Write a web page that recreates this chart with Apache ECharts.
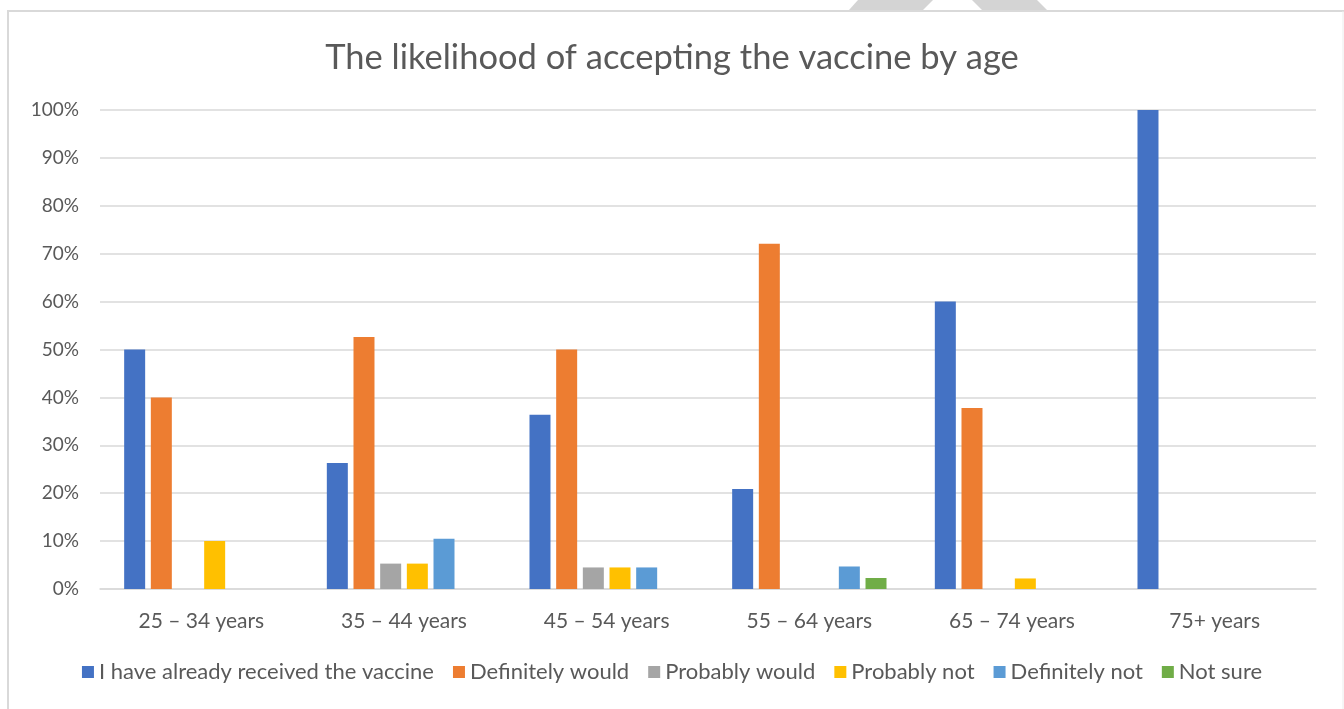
<!DOCTYPE html>
<html>
<head>
<meta charset="utf-8">
<script src="https://cdn.jsdelivr.net/npm/echarts@6/dist/echarts.min.js"></script>
<style>
  html, body { margin: 0; padding: 0; background: #ffffff; }
  #chart { width: 1344px; height: 709px; }
</style>
</head>
<body>
<div id="chart"></div>
<script>
// Age groups along the x axis
const ageGroups = ['25 – 34 years', '35 – 44 years', '45 – 54 years', '55 – 64 years', '65 – 74 years', '75+ years'];

// Share of respondents per answer, in percent
const alreadyReceived = [50, 26.3, 36.4, 20.9, 60, 100];
const definitelyWould = [40, 52.6, 50, 72.1, 37.8, 0];
const probablyWould   = [0, 5.3, 4.5, 0, 0, 0];
const probablyNot     = [10, 5.3, 4.5, 0, 2.2, 0];
const definitelyNot   = [0, 10.5, 4.5, 4.7, 0, 0];
const notSure         = [0, 0, 0, 2.3, 0, 0];

const seriesNames = ['I have already received the vaccine', 'Definitely would', 'Probably would', 'Probably not', 'Definitely not', 'Not sure'];
const seriesData = [alreadyReceived, definitelyWould, probablyWould, probablyNot, definitelyNot, notSure];
const palette = ['#4472C4', '#ED7D31', '#A5A5A5', '#FFC000', '#5B9BD5', '#70AD47'];

const FONT = 'Lato';
const TEXT = '#595959';

const chart = echarts.init(document.getElementById('chart'), null, { renderer: 'canvas' });

const series = seriesNames.map((name, i) => ({
  name: name,
  type: 'bar',
  data: seriesData[i],
  barWidth: 21,
  barGap: '27%',
  itemStyle: { color: palette[i] },
  emphasis: { disabled: true }
}));

chart.setOption({
  animation: false,
  backgroundColor: '#ffffff',
  color: palette,
  title: {
    text: 'The likelihood of accepting the vaccine by age',
    left: 'center',
    top: 35,
    textStyle: { fontFamily: FONT, fontSize: 34.5, fontWeight: 'normal', color: TEXT }
  },
  legend: {
    bottom: 21,
    left: 'center',
    itemWidth: 12,
    itemHeight: 12,
    itemGap: 19,
    icon: 'rect',
    textStyle: { fontFamily: FONT, fontSize: 22, color: TEXT },
    data: seriesNames
  },
  grid: { left: 100, right: 28, top: 110, bottom: 120 },
  xAxis: {
    type: 'category',
    data: ageGroups,
    axisTick: { show: false },
    axisLine: { show: true, lineStyle: { color: '#d9d9d9', width: 1.5 } },
    axisLabel: { fontFamily: FONT, fontSize: 21, color: TEXT, margin: 22 }
  },
  yAxis: {
    type: 'value',
    min: 0,
    max: 100,
    interval: 10,
    axisLine: { show: false },
    axisTick: { show: false },
    splitLine: { lineStyle: { color: '#d9d9d9', width: 1.5 } },
    axisLabel: { fontFamily: FONT, fontSize: 19, color: TEXT, margin: 21, formatter: '{value}%' }
  },
  graphic: [
    // chart frame
    { type: 'line', shape: { x1: 7, y1: 11, x2: 1344, y2: 11 }, style: { stroke: '#d9d9d9', lineWidth: 2 }, z: 10 },
    { type: 'line', shape: { x1: 8, y1: 11, x2: 8, y2: 709 }, style: { stroke: '#d9d9d9', lineWidth: 2 }, z: 10 },
    { type: 'line', shape: { x1: 1343, y1: 11, x2: 1343, y2: 709 }, style: { stroke: '#ececec', lineWidth: 1 }, z: 10 },
    // grey shape above the frame
    { type: 'polygon', shape: { points: [[858, 0], [933, 0], [923, 10], [849, 10]] }, style: { fill: '#d4d4d4' }, z: 10 },
    { type: 'polygon', shape: { points: [[972, 0], [1037, 0], [1047, 10], [982, 10]] }, style: { fill: '#d4d4d4' }, z: 10 }
  ],
  series: series
});
</script>
</body>
</html>
